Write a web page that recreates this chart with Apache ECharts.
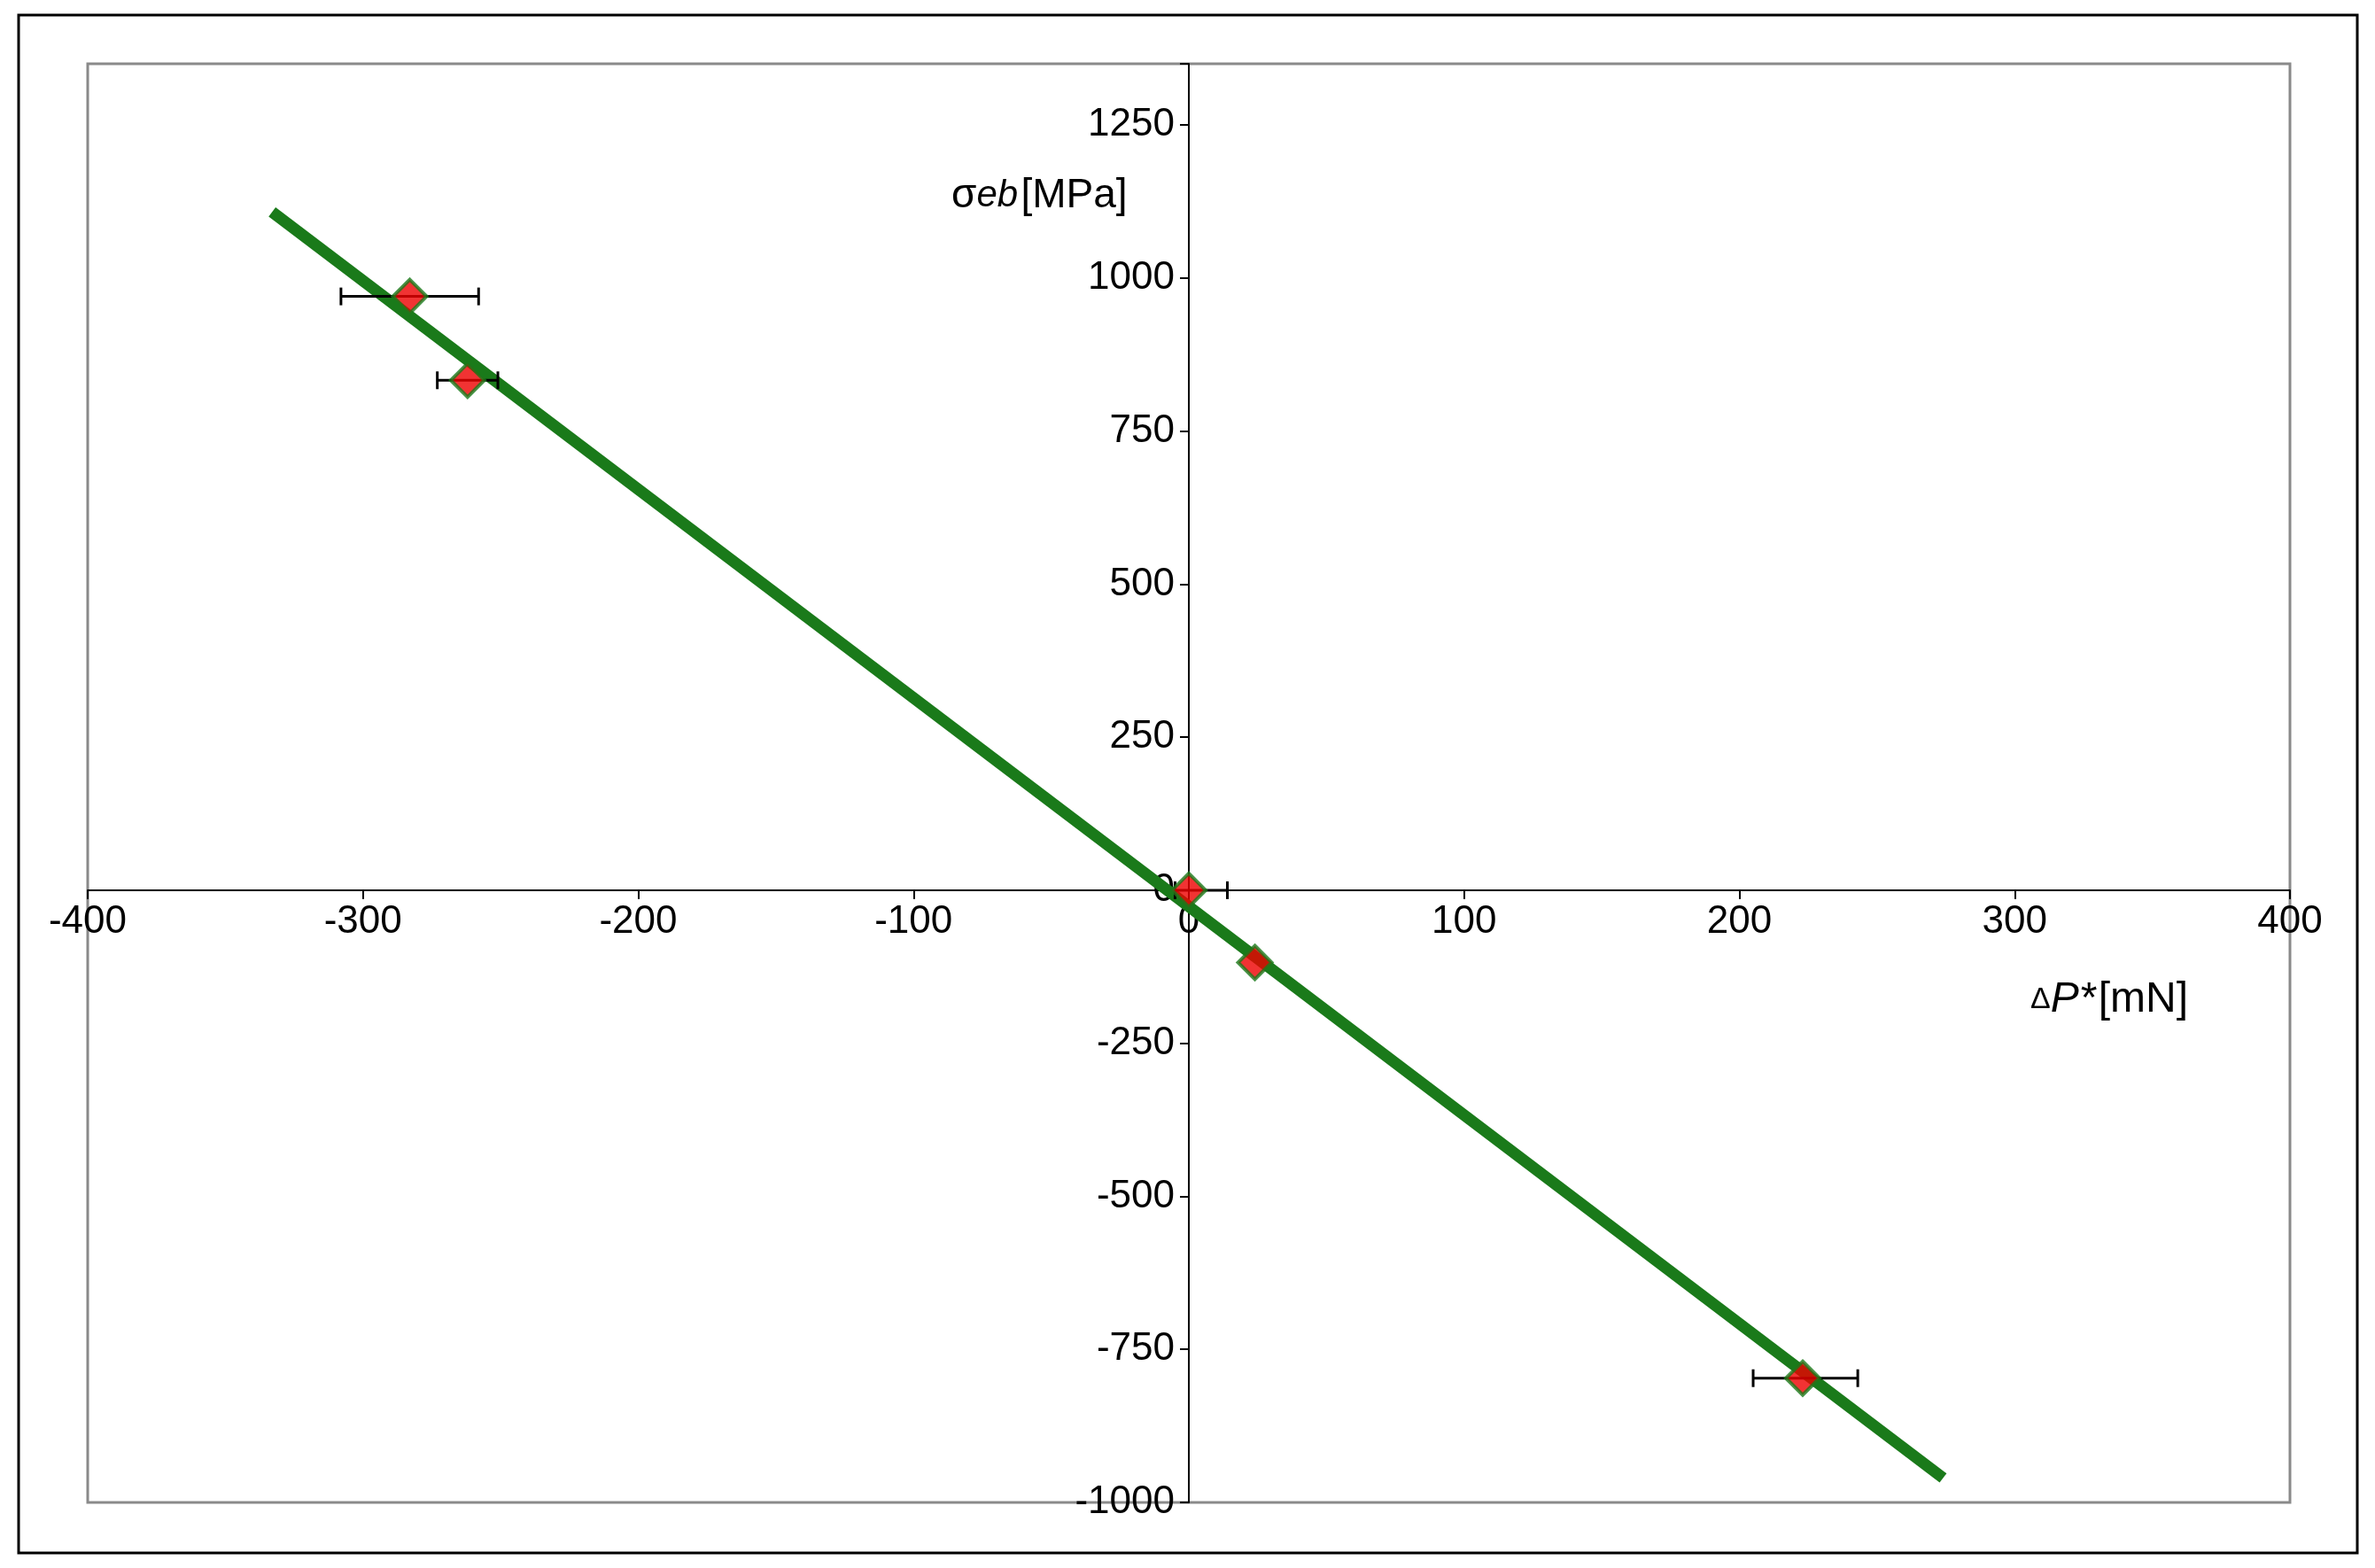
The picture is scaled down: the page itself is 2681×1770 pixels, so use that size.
<!DOCTYPE html>
<html><head><meta charset="utf-8">
<script src="https://cdn.jsdelivr.net/npm/echarts@6/dist/echarts.min.js"></script>
<style>html,body{margin:0;background:#fff}#c{width:2681px;height:1770px}</style>
</head><body><div id="c"></div>
<script>
const xVals=[-283,-262,0,24,223];
const yVals=[970,833,0,-118,-797];
const xErrLow=[-308,-273,-5,24,205];
const xErrHigh=[-258,-251,14,24,243];
const fitX=[-333,274];
const fitY=[1108,-960];
const xTicks=[-400,-300,-200,-100,0,100,200,300,400];
const yTicks=[-1000,-750,-500,-250,0,250,500,750,1000,1250];

const G={left:99,right:96,top:72,bottom:74};
const W=2681,H=1770;
const pw=W-G.left-G.right, ph=H-G.top-G.bottom;
const xOff=-(pw*(0-(-400))/800);
const yOff=-(ph*(0-(-1000))/2350);

const chart=echarts.init(document.getElementById('c'));
const font='"Liberation Sans", Arial, sans-serif';
chart.setOption({
  animation:false,
  grid:Object.assign({show:true,borderColor:'#8a8a8a',borderWidth:3,outerBoundsMode:'none',containLabel:false},G),
  xAxis:{type:'value',min:-400,max:400,interval:100,position:'bottom',offset:yOff,
    axisLine:{onZero:false,lineStyle:{color:'#000',width:2}},
    axisTick:{show:true,length:10,lineStyle:{color:'#000',width:2}},
    axisLabel:{fontSize:44,color:'#000',fontFamily:font,margin:14},
    splitLine:{show:false}},
  yAxis:{type:'value',min:-1000,max:1350,interval:250,position:'left',offset:xOff,
    axisLine:{onZero:false,lineStyle:{color:'#000',width:2}},
    axisTick:{show:true,length:10,lineStyle:{color:'#000',width:2}},
    axisLabel:{fontSize:44,color:'#000',fontFamily:font,margin:16,
      formatter:v=>v>1250?'':v},
    splitLine:{show:false}},
  graphic:[
    {type:'rect',shape:{x:21,y:17,width:2640,height:1736},style:{fill:'none',stroke:'#000',lineWidth:3},silent:true},
    {type:'text',left:1074,top:198,style:{text:'{g|σ}{i|eb} {n|[MPa]}',rich:{
      g:{fontSize:46,fontFamily:font,fill:'#000'},
      i:{fontSize:42,fontStyle:'italic',fontFamily:font,fill:'#000'},
      n:{fontSize:46,fontFamily:font,fill:'#000'}}}},
    {type:'text',left:2292,top:1105,style:{text:'{g|Δ}{i|P*} {n|[mN]}',rich:{
      g:{fontSize:34,fontFamily:font,fill:'#000'},
      i:{fontSize:48,fontStyle:'italic',fontFamily:font,fill:'#000'},
      n:{fontSize:48,fontFamily:font,fill:'#000'}}}}
  ],
  series:[
    {type:'line',data:fitX.map((x,i)=>[x,fitY[i]]),symbol:'none',
     lineStyle:{color:'#1a7a1a',width:13},z:2},
    {type:'custom',z:3,data:xVals.map((x,i)=>[xErrLow[i],xErrHigh[i],yVals[i]]),
     renderItem:(p,api)=>{
       const a=api.coord([api.value(0),api.value(2)]);
       const b=api.coord([api.value(1),api.value(2)]);
       if(Math.abs(b[0]-a[0])<1) return null;
       const s={stroke:'#000',lineWidth:3};
       return {type:'group',children:[
         {type:'line',shape:{x1:a[0],y1:a[1],x2:b[0],y2:b[1]},style:s},
         {type:'line',shape:{x1:a[0],y1:a[1]-10,x2:a[0],y2:a[1]+10},style:s},
         {type:'line',shape:{x1:b[0],y1:b[1]-10,x2:b[0],y2:b[1]+10},style:s}]};
     }},
    {type:'scatter',data:xVals.map((x,i)=>[x,yVals[i]]),symbol:'diamond',symbolSize:38,
     itemStyle:{color:'#ee0000',borderColor:'#1a7a1a',borderWidth:4},z:4}
  ]
});
</script></body></html>
